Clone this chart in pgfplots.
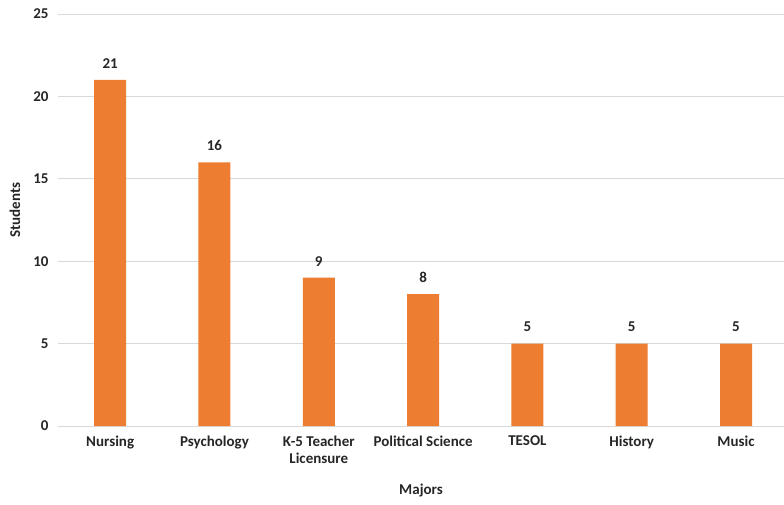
\documentclass[border=0pt]{standalone}
\usepackage{pgfplots}
\pgfplotsset{compat=1.18}
\usepackage{fontspec}
\setmainfont{Carlito}
\definecolor{barorange}{HTML}{ED7D31}
\definecolor{gridgray}{HTML}{D9D9D9}
\definecolor{labelgray}{HTML}{262626}
\begin{document}
\begin{tikzpicture}[x=1pt,y=1pt]
\useasboundingbox (0,0) rectangle (784,504);
\begin{axis}[
  at={(58pt,78pt)}, anchor=south west,
  scale only axis, width=726pt, height=412pt,
  ybar, bar width=32pt,
  xmin=-0.5, xmax=6.46, ymin=0, ymax=25,
  xtick=data,
  xticklabels={Nursing,Psychology,{K-5 Teacher\\Licensure},Political Science,TESOL,History,Music},
  xticklabel style={align=center, font=\fontsize{15}{17}\selectfont\bfseries, text=labelgray, yshift=-6pt},
  ytick={0,5,...,25},
  yticklabel style={font=\fontsize{15}{17}\selectfont\bfseries, text=labelgray, xshift=-6pt},
  /pgf/number format/assume math mode=true,
  major tick length=0pt,
  ymajorgrids, grid style={gridgray, line width=0.9pt},
  axis line style={draw=none},
  xlabel={Majors}, ylabel={Students},
  xlabel style={at={(axis description cs:0.5,0)}, anchor=center, yshift=-65pt, font=\fontsize{15}{17}\selectfont\bfseries, text=labelgray},
  ylabel style={at={(axis description cs:0,0.524)}, anchor=center, yshift=43pt, font=\fontsize{15}{17}\selectfont\bfseries, text=labelgray},
  nodes near coords,
  nodes near coords style={font=\fontsize{15}{17}\selectfont\bfseries, text=labelgray, yshift=8pt},
  clip=false,
]
\addplot[fill=barorange, draw=none] coordinates {
  (0,21) (1,16) (2,9) (3,8) (4,5) (5,5) (6,5)
};
\end{axis}
\end{tikzpicture}
\end{document}
